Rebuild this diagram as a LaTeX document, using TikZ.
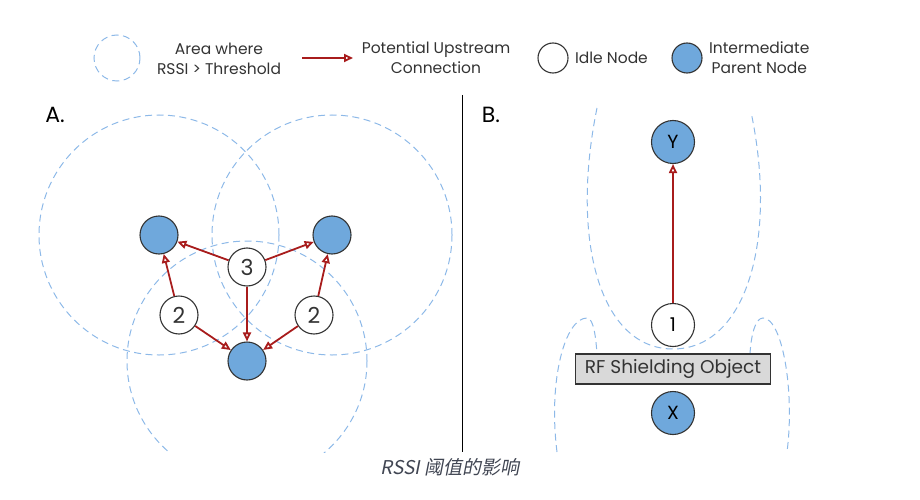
\documentclass[tikz,border=0pt]{standalone}
\usepackage{fontspec}
\setmainfont{Poppins}
\newfontfamily\cjk{Noto Sans CJK SC}[FakeSlant=0.2]
\usetikzlibrary{arrows.meta, positioning}

\definecolor{rssiblue}{HTML}{8DB9E8}
\definecolor{parentblue}{HTML}{6FA8DC}
\definecolor{linkred}{HTML}{A81C1C}
\definecolor{inkgray}{HTML}{333333}
\definecolor{shieldgray}{HTML}{D9D9D9}
\definecolor{capgray}{HTML}{404552}

\begin{document}
\begin{tikzpicture}[
  x=1pt, y=-1pt,
  font=\fontsize{15.5}{20}\selectfont, text=inkgray,
  area/.style={draw=rssiblue, dash pattern=on 7pt off 4.5pt, line width=1pt},
  idle/.style={circle, draw=inkgray, fill=white, line width=1.1pt,
    minimum size=38pt, inner sep=0pt, font=\fontsize{22}{22}\selectfont},
  parent/.style={idle, fill=parentblue},
  bigidle/.style={idle, minimum size=43pt, font=\fontsize{19}{19}\selectfont, text=black},
  bigparent/.style={bigidle, fill=parentblue},
  shield/.style={rectangle, draw=inkgray, fill=shieldgray, line width=1.1pt,
    minimum width=195pt, minimum height=30pt, inner sep=0pt,
    font=\fontsize{18.5}{18.5}\selectfont},
  link/.style={-{Triangle[open, length=9pt, width=8pt]}, draw=linkred, line width=1.8pt},
  panel/.style={font=\fontsize{22}{22}\selectfont, text=black}
]
\useasboundingbox (0,0) rectangle (920,500);

% legend
\node[circle, area, minimum size=46pt] (lgarea) at (117,58) {};
\node[align=center] (lgareatxt) at (219,59) {Area where\\RSSI > Threshold};
\coordinate (lgfrom) at (302,58);
\coordinate (lgto) at (353,58);
\draw[link] (lgfrom) -- (lgto);
\node[align=center] (lglinktxt) at (436,58) {Potential Upstream\\Connection};
\node[idle, minimum size=30pt] (lgidle) at (553,58) {};
\node[right=3pt of lgidle] (lgidletxt) {Idle Node};
\node[parent, minimum size=30pt] (lgparent) at (687,58) {};
\node[right=3pt of lgparent, align=center] (lgparenttxt) {Intermediate\\Parent Node};

% divider
\coordinate (divtop) at (462,95);
\coordinate (divbot) at (462,452);
\draw[line width=1pt] (divtop) -- (divbot);

% RSSI areas
\begin{scope}
  \clip (0,90) rectangle (920,452);
  \draw[area] (159,235) circle[radius=120pt];
  \draw[area] (332,235) circle[radius=120pt];
  \draw[area] (247,361) circle[radius=120pt];
  \draw[area] (597,108) .. controls (570,240) and (600,349) .. (673,349)
    .. controls (746,349) and (778,240) .. (751,112);
  \draw[area] (557,452) .. controls (548,380) and (565,318) .. (587,318)
    .. controls (594,318) and (596,340) .. (597,354);
  \draw[area] (750,354) .. controls (751,336) and (755,318) .. (763,318)
    .. controls (782,318) and (795,390) .. (787,452);
\end{scope}

% A.
\node[panel] (labA) at (55,115) {A.};
\node[parent] (pl) at (159,235) {};
\node[parent] (pr) at (332,235) {};
\node[parent] (pb) at (247,361) {};
\node[idle] (n3) at (247,267) {3};
\node[idle] (n2l) at (179,315) {2};
\node[idle] (n2r) at (314,315) {2};
\foreach \a/\b in {n3/pl, n3/pr, n3/pb, n2l/pl, n2l/pb, n2r/pr, n2r/pb}
  \draw[link] (\a) -- (\b);

% B.
\node[panel] (labB) at (491,115) {B.};
\node[bigparent] (ny) at (673,142) {Y};
\node[bigidle] (n1) at (673,325) {1};
\node[shield] (rf) at (673,369) {RF Shielding Object};
\node[bigparent] (nx) at (673,413) {X};
\draw[link] (n1) -- (ny);

% caption
\node[font=\cjk\fontsize{19}{19}\selectfont, text=capgray] (caption) at (450,467) {RSSI 阈值的影响};
\end{tikzpicture}
\end{document}
